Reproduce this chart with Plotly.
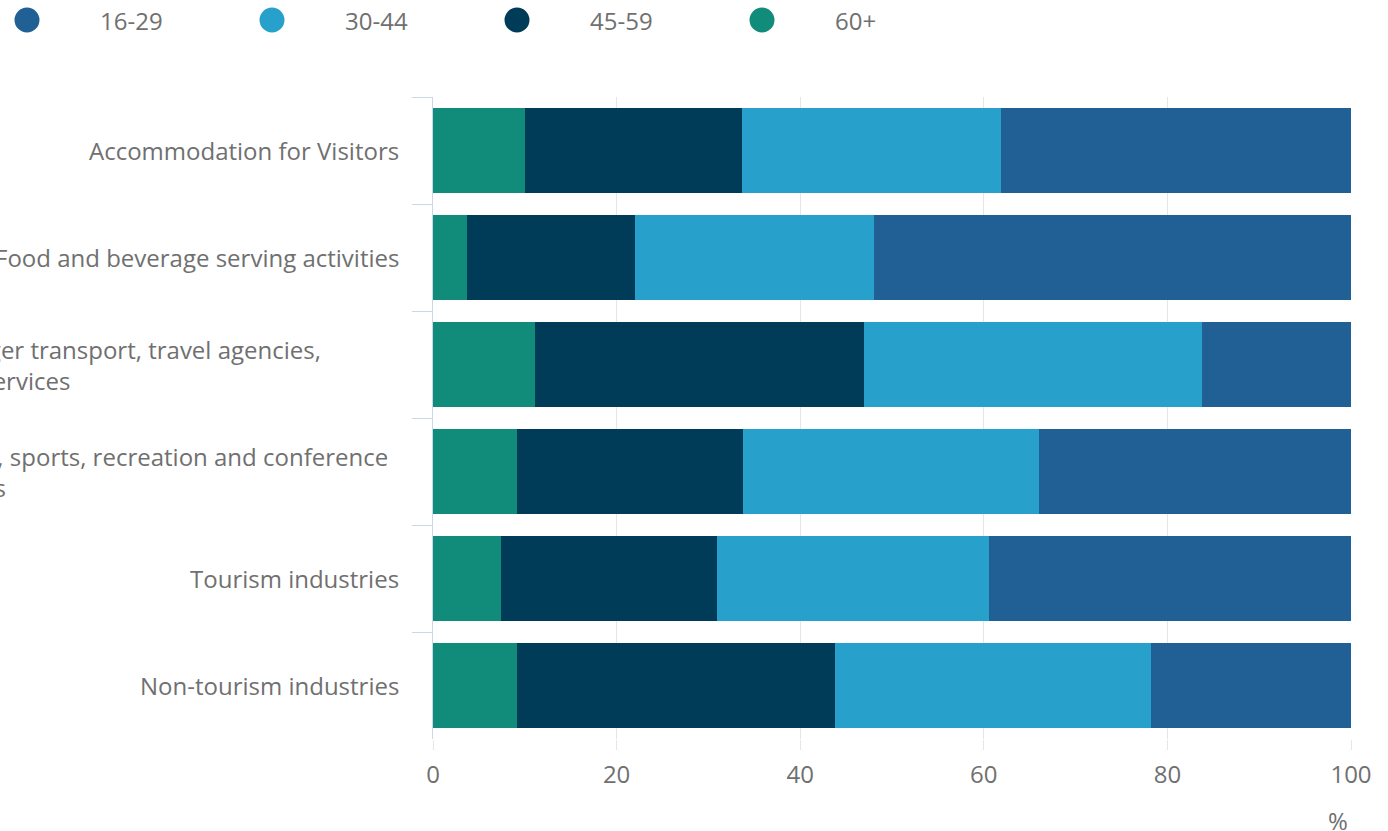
import plotly.graph_objects as go

# Industry groups, top to bottom
industries = [
    "Accommodation for Visitors",
    "Food and beverage serving activities",
    "Passenger transport, travel agencies,<br>rental services",
    "Cultural, sports, recreation and conference<br>activities",
    "Tourism industries",
    "Non-tourism industries",
]

# Share of employment by age band (%)
age_60_plus = [10.0, 3.7, 11.1, 9.1, 7.4, 9.1]
age_45_59 = [23.7, 18.3, 35.8, 24.7, 23.5, 34.7]
age_30_44 = [28.2, 26.0, 36.9, 32.2, 29.7, 34.4]
age_16_29 = [38.1, 52.0, 16.2, 34.0, 39.4, 21.8]

x_ticks = [0, 20, 40, 60, 80, 100]

FONT = "Open Sans"
GREY = "#707070"

# Plot area in pixels (left, right, top, bottom)
W, H = 1388, 831
L, R, T, B = 433, 1351, 97, 739
LABEL_WRAP = 490  # width of the box that wrapped category labels sit in


def px_x(px):
    return (px - L) / (R - L)


def px_y(py):
    return (B - py) / (B - T)


series = [
    ("60+", age_60_plus, "#118c7b"),
    ("45-59", age_45_59, "#003c57"),
    ("30-44", age_30_44, "#27a0cc"),
    ("16-29", age_16_29, "#206095"),
]

fig = go.Figure()

# Stacked bars, oldest band at the base
for name, vals, col in series:
    fig.add_trace(go.Bar(
        x=vals, y=industries, orientation="h", name=name,
        marker=dict(color=col, line=dict(width=0)),
        showlegend=False,
    ))

# Key across the top: round swatch plus label, youngest band first
for i, (name, vals, col) in enumerate(reversed(series)):
    cx = px_x(27 + 245 * i)
    cy = px_y(20)
    fig.add_shape(
        type="circle", xref="paper", yref="paper",
        xsizemode="pixel", ysizemode="pixel",
        xanchor=cx, yanchor=cy,
        x0=-12.5, x1=12.5, y0=-12.5, y1=12.5,
        fillcolor=col, line=dict(width=0),
    )
    fig.add_annotation(
        x=px_x(98 + 245 * i), xref="paper", xanchor="left",
        y=px_y(21), yref="paper", yanchor="middle",
        text=name, showarrow=False,
        font=dict(family=FONT, size=24, color=GREY),
    )

# Category labels; wrapped ones are left-aligned inside a fixed-width box
for lab in industries:
    wrapped = "<br>" in lab
    fig.add_annotation(
        x=0, xref="paper", xshift=-33, xanchor="right",
        y=lab, yref="y", yanchor="middle",
        text=lab, showarrow=False,
        align="left" if wrapped else "right",
        width=LABEL_WRAP if wrapped else None,
        borderpad=0,
        font=dict(family=FONT, size=24, color=GREY),
    )

fig.add_annotation(
    x=1, xref="paper", xanchor="right", xshift=-1,
    y=px_y(820), yref="paper", yanchor="middle",
    text="%", showarrow=False,
    font=dict(family=FONT, size=24, color=GREY),
)

fig.update_layout(
    width=W, height=H,
    barmode="stack", bargap=0.2,
    paper_bgcolor="white", plot_bgcolor="white",
    margin=dict(l=L, r=W - R, t=T, b=H - B, autoexpand=False),
    font=dict(family=FONT, size=24, color=GREY),
    showlegend=False,
    xaxis=dict(
        range=[0, 100], tickvals=x_ticks, showgrid=True, gridcolor="#e6e6e6",
        gridwidth=1, zeroline=False, showline=False,
        ticks="outside", ticklen=10, tickcolor="#e6e6e6",
        tickfont=dict(family=FONT, size=24, color=GREY),
        ticklabelstandoff=4,
    ),
    yaxis=dict(
        type="category", categoryorder="array", categoryarray=industries,
        autorange="reversed", showticklabels=False,
        showline=True, linecolor="#ccd6eb", linewidth=1,
        ticks="outside", tickson="boundaries", ticklen=20,
        tickcolor="#ccd6eb", showgrid=False, zeroline=False,
    ),
)

fig.write_html("out.html")
